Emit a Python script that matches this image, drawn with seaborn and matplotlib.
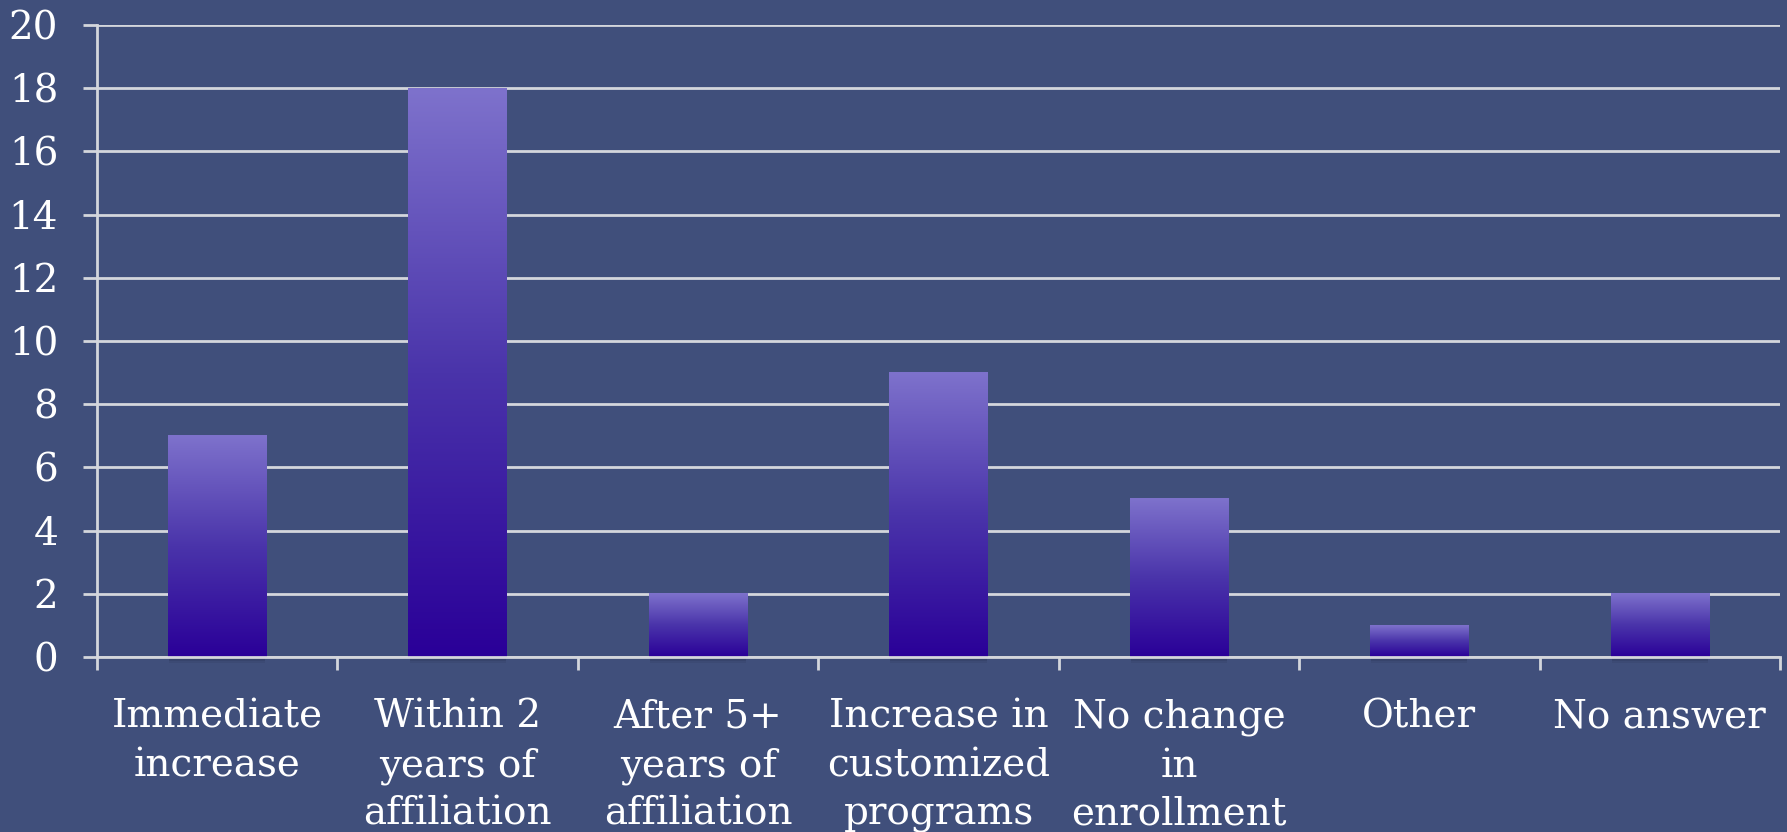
import numpy as np
import pandas as pd
import matplotlib
matplotlib.use("Agg")
import matplotlib.pyplot as plt
from matplotlib.colors import LinearSegmentedColormap
import seaborn as sns

categories = [
    "Immediate\nincrease",
    "Within 2\nyears of\naffiliation",
    "After 5+\nyears of\naffiliation",
    "Increase in\ncustomized\nprograms",
    "No change\nin\nenrollment",
    "Other",
    "No answer",
]
counts = [7, 18, 2, 9, 5, 1, 2]
y_ticks = [0, 2, 4, 6, 8, 10, 12, 14, 16, 18, 20]

bg = "#404F7B"
grid_col = "#D4D6DC"
text_col = "white"

sns.set_theme(style="white")
plt.rcParams["font.family"] = ["DejaVu Serif", "DejaVu Sans"]

df = pd.DataFrame({"category": categories, "count": counts})

fig = plt.figure(figsize=(17.87, 8.32), dpi=100, facecolor=bg)
ax = fig.add_axes([0.0543, 0.2103, 0.9418, 0.7597])
ax.set_facecolor(bg)

sns.barplot(data=df, x="category", y="count", ax=ax, width=0.41,
            color="#4B36AB", saturation=1, zorder=3)

ax.set_ylim(0, 20)
ax.set_xlim(-0.5, len(categories) - 0.5)
ax.set_yticks(y_ticks)
ax.set_xlabel("")
ax.set_ylabel("")

# vertical gradient inside each bar
grad_cmap = LinearSegmentedColormap.from_list("barfill", ["#2A0098", "#4A34AA", "#7E72CC"])
grad = np.linspace(0, 1, 256).reshape(-1, 1)
for p in ax.patches:
    x0, w, h = p.get_x(), p.get_width(), p.get_height()
    p.set_facecolor("none")
    p.set_edgecolor("none")
    ax.imshow(grad, cmap=grad_cmap, origin="lower", aspect="auto",
              extent=(x0, x0 + w, 0, h), zorder=3, interpolation="bicubic")
    # soft shadow under the bar
    for k, a in enumerate([0.35, 0.22, 0.1]):
        ax.add_patch(plt.Rectangle((x0 + 0.005, -0.06 * (k + 1)), w - 0.01, 0.06,
                                   facecolor="#1A2038", alpha=a, edgecolor="none",
                                   clip_on=False, zorder=2))

# horizontal gridlines
ax.yaxis.grid(True, color=grid_col, linewidth=2, zorder=1)
ax.xaxis.grid(False)
ax.set_axisbelow(True)

for s in ["top", "right"]:
    ax.spines[s].set_visible(False)
ax.spines["left"].set_color(grid_col)
ax.spines["left"].set_linewidth(2)
ax.spines["bottom"].set_color(grid_col)
ax.spines["bottom"].set_linewidth(2)
ax.spines["bottom"].set_zorder(4)

ax.tick_params(axis="y", which="major", length=10, width=2, color=grid_col,
               labelcolor=text_col, labelsize=28, pad=18, left=True)
# category labels at centres, ticks at boundaries
ax.set_xticks(np.arange(len(categories)))
ax.set_xticklabels(categories, linespacing=1.39)
ax.set_xticks(np.arange(len(categories) + 1) - 0.5, minor=True)
ax.tick_params(axis="x", which="major", length=0, labelcolor=text_col,
               labelsize=28, pad=30)
ax.tick_params(axis="x", which="minor", length=9, width=2, color=grid_col,
               bottom=True)

fig.savefig("out.png", dpi=100, facecolor=bg)
